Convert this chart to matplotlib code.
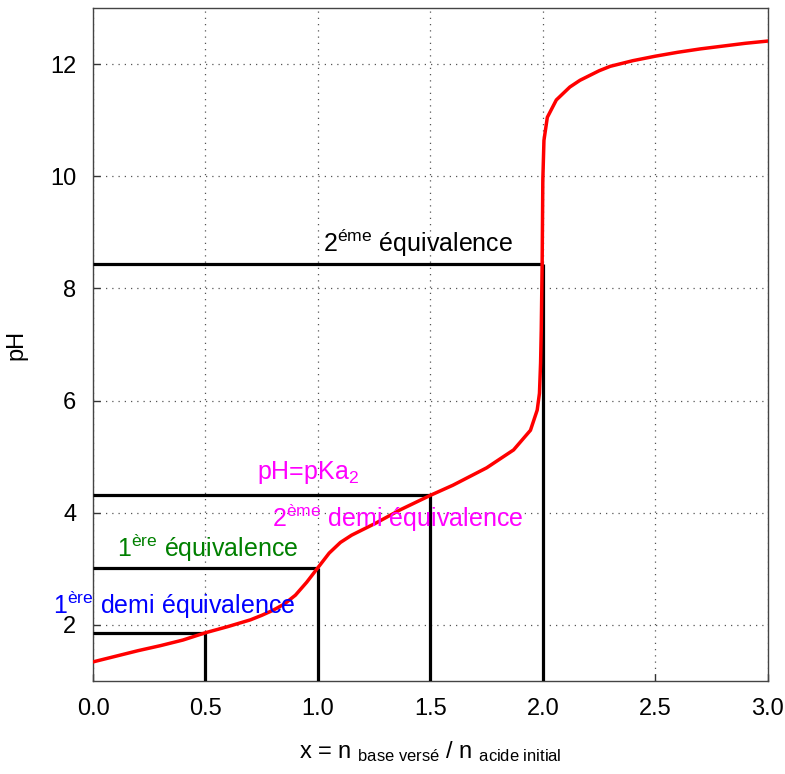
import numpy as np
import matplotlib
matplotlib.use("Agg")
import matplotlib.pyplot as plt

plt.rcParams['font.family'] = ['Liberation Sans', 'DejaVu Sans']
plt.rcParams['mathtext.fontset'] = 'custom'
plt.rcParams['mathtext.rm'] = 'Liberation Sans'
plt.rcParams['mathtext.it'] = 'Liberation Sans:italic'
plt.rcParams['mathtext.bf'] = 'Liberation Sans:bold'

curve_x = [0.0, 0.1, 0.2, 0.3, 0.4, 0.5, 0.6, 0.7, 0.75, 0.8, 0.85, 0.9,
           0.95, 1.0, 1.05, 1.1, 1.15, 1.2, 1.26, 1.365, 1.5, 1.6, 1.75,
           1.87, 1.945, 1.975, 1.985, 1.99, 1.993, 1.997, 2.0, 2.005, 2.02,
           2.06, 2.12, 2.165, 2.2, 2.25, 2.3, 2.4, 2.5, 2.6, 2.7, 2.8, 2.9,
           3.0]
curve_ph = [1.34, 1.44, 1.54, 1.63, 1.73, 1.86, 1.97, 2.09, 2.17, 2.26,
            2.37, 2.53, 2.76, 3.02, 3.28, 3.47, 3.6, 3.7, 3.82, 4.05, 4.31,
            4.49, 4.8, 5.12, 5.47, 5.83, 6.13, 6.67, 7.26, 8.45, 9.93, 10.64,
            11.05, 11.36, 11.59, 11.71, 11.78, 11.88, 11.96, 12.06, 12.14,
            12.21, 12.27, 12.32, 12.37, 12.41]

# equivalence / half-equivalence points
mark_x = [0.5, 1.0, 1.5, 2.0]
mark_ph = [1.86, 3.02, 4.31, 8.43]

# annotations: text, x, y, colour
label_text = [r'1$^{\mathrm{ère}}$ demi équivalence',
              r'1$^{\mathrm{ère}}$ équivalence',
              r'pH=pKa$_{2}$',
              r'2$^{\mathrm{ème}}$ demi équivalence',
              r'2$^{\mathrm{éme}}$ équivalence']
label_x = [-0.178, 0.107, 0.73, 0.797, 1.023]
label_y = [2.19, 3.21, 4.6, 3.75, 8.65]
label_col = ['#0000ff', '#008000', '#ff00ff', '#ff00ff', 'black']

fig = plt.figure(figsize=(7.85, 7.74), dpi=100)
ax = fig.add_axes([0.1185, 0.1202, 0.8595, 0.8695])

ymin = 1.0
for mx, mp in zip(mark_x, mark_ph):
    ax.plot([0, mx], [mp, mp], color='black', lw=2.3, zorder=3,
            solid_capstyle='butt')
    ax.plot([mx, mx], [ymin, mp], color='black', lw=2.3, zorder=3,
            solid_capstyle='butt')

ax.plot(curve_x, curve_ph, color='#ff0000', lw=2.5, zorder=4)

for t, lx, ly, c in zip(label_text, label_x, label_y, label_col):
    ax.text(lx, ly, t, color=c, fontsize=18, ha='left', va='baseline',
            clip_on=False, zorder=5)

ax.set_xlim(0, 3)
ax.set_ylim(ymin, 13)
ax.set_xticks(np.arange(0, 3.01, 0.5))
ax.set_xticklabels([f'{v:.1f}' for v in np.arange(0, 3.01, 0.5)])
ax.set_yticks([2, 4, 6, 8, 10, 12])
ax.tick_params(direction='in', length=5, width=1, labelsize=17, pad=12,
               colors='#333333', labelcolor='black')
ax.grid(True, color='#555555', linestyle=(0, (1, 4)), lw=0.9)
for s in ax.spines.values():
    s.set_color('#444444')
    s.set_linewidth(1)

ax.set_ylabel('pH', fontsize=17, labelpad=16)
ax.set_xlabel(r'x = n $_{\mathrm{base\ versé}}$ / n $_{\mathrm{acide\ initial}}$',
              fontsize=17, labelpad=14)

fig.savefig('out.png', dpi=100)
